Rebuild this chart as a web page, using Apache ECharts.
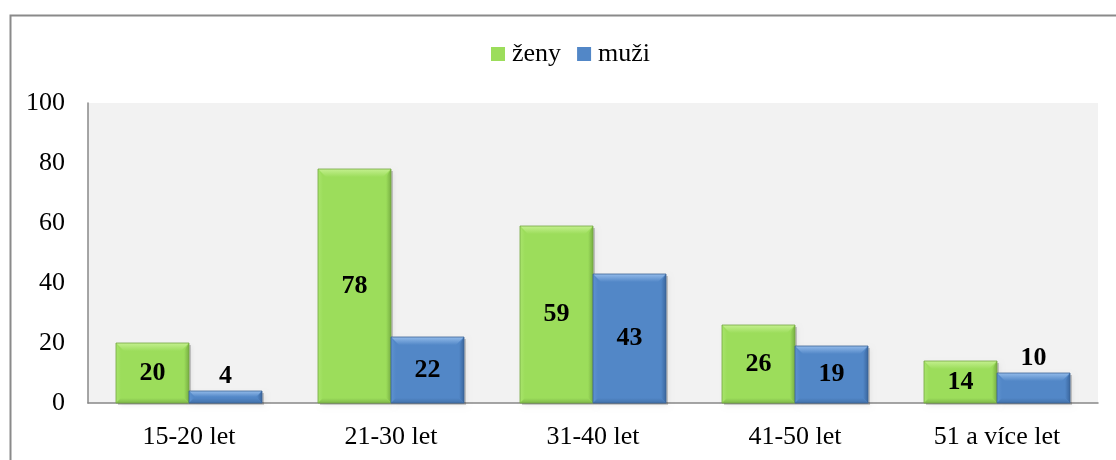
<!DOCTYPE html>
<html><head><meta charset="utf-8">
<script src="https://cdn.jsdelivr.net/npm/echarts@6/dist/echarts.min.js"></script>
<style>html,body{margin:0;padding:0;background:#fff}#c{width:1116px;height:460px}</style>
</head><body><div id="c"></div>
<script>
const categories = ['15-20 let', '21-30 let', '31-40 let', '41-50 let', '51 a více let'];
const zeny = [20, 78, 59, 26, 14];
const muzi = [4, 22, 43, 19, 10];
const seriesNames = ['ženy', 'muži'];
const yTicks = [0, 20, 40, 60, 80, 100];

const FONT = '"Liberation Serif", "Times New Roman", serif';
const palettes = [
  {base: '#9cdd5b', light: '#c4f08f', side: '#a8e46b', dark: '#78b043', darker: '#7fb84a', border: '#74a641'},
  {base: '#5287c7', light: '#93bbea', side: '#5e92d0', dark: '#3b679f', darker: '#4271aa', border: '#3a6395'}
];

function grad(x0, y0, x1, y1, c0, c1) {
  return new echarts.graphic.LinearGradient(x0, y0, x1, y1, [{offset: 0, color: c0}, {offset: 1, color: c1}]);
}

function makeRender(si) {
  return function (params, api) {
    const cat = api.value(0), val = api.value(1);
    const bandW = api.size([1, 0])[0];
    const bw = bandW * 0.3614;
    const base = api.coord([cat, 0]);
    const topP = api.coord([cat, val]);
    const x = si === 0 ? base[0] - bw : base[0];
    const y = topP[1];
    const h = base[1] - topP[1];
    const b = Math.min(8, h / 2);
    const s = Math.min(5, h / 2);
    const p = palettes[si];
    const children = [
      {type: 'rect', shape: {x: x + 2, y: y + 2, width: bw, height: h}, style: {fill: 'rgba(0,0,0,0.18)', shadowBlur: 5, shadowColor: 'rgba(0,0,0,0.35)', shadowOffsetX: 1, shadowOffsetY: 1}, silent: true},
      {type: 'rect', shape: {x: x, y: y, width: bw, height: h}, style: {fill: p.base}},
      {type: 'polygon', shape: {points: [[x, y], [x + bw, y], [x + bw - b, y + b], [x + b, y + b]]}, style: {fill: grad(0, 0, 0, 1, p.light, p.base)}},
      {type: 'polygon', shape: {points: [[x, y], [x + s, y + b], [x + s, y + h - s], [x, y + h]]}, style: {fill: grad(0, 0, 1, 0, p.side, p.base)}},
      {type: 'polygon', shape: {points: [[x + bw, y], [x + bw - s, y + b], [x + bw - s, y + h - s], [x + bw, y + h]]}, style: {fill: grad(0, 0, 1, 0, p.base, p.dark)}},
      {type: 'polygon', shape: {points: [[x, y + h], [x + s, y + h - s], [x + bw - s, y + h - s], [x + bw, y + h]]}, style: {fill: grad(0, 0, 0, 1, p.base, p.darker)}},
      {type: 'rect', shape: {x: x, y: y, width: bw, height: h}, style: {fill: 'none', stroke: p.border, lineWidth: 0.8}}
    ];
    const inside = h >= 36;
    children.push({
      type: 'text',
      style: {
        text: String(val),
        x: x + bw / 2,
        y: inside ? y + h / 2 : y - 2,
        align: 'center',
        verticalAlign: inside ? 'middle' : 'bottom',
        fontSize: 26,
        fontWeight: 'bold',
        fontFamily: FONT,
        fill: '#000'
      }
    });
    return {type: 'group', children: children};
  };
}

const chart = echarts.init(document.getElementById('c'), null, {renderer: 'canvas'});
chart.setOption({
  animation: false,
  backgroundColor: '#fff',
  graphic: [{
    type: 'rect', left: 8, top: 13, shape: {x: 0, y: 0, width: 1200, height: 500},
    style: {fill: 'none', stroke: '#8a8a8a', lineWidth: 2}, silent: true, z: -10
  }],
  legend: {
    top: 36, left: 486,
    itemWidth: 14, itemHeight: 14, itemGap: 16,
    icon: 'rect',
    textStyle: {fontFamily: FONT, fontSize: 26, color: '#000', padding: [0, 0, 0, 2]},
    data: seriesNames
  },
  grid: {left: 88, top: 103, right: 18, bottom: 57, show: true, backgroundColor: '#f2f2f2', borderWidth: 0},
  xAxis: {
    type: 'category', data: categories,
    axisLine: {show: true, lineStyle: {color: '#888', width: 1.5}},
    axisTick: {show: false},
    axisLabel: {fontFamily: FONT, fontSize: 26, color: '#000', margin: 21}
  },
  yAxis: {
    type: 'value', min: yTicks[0], max: yTicks[yTicks.length - 1], interval: 20,
    axisLine: {show: true, lineStyle: {color: '#888', width: 1.5}},
    axisTick: {show: false},
    splitLine: {show: false},
    axisLabel: {fontFamily: FONT, fontSize: 26, color: '#000', margin: 23}
  },
  series: [
    {name: seriesNames[0], type: 'custom', renderItem: makeRender(0), itemStyle: {color: '#9cdd5b'},
     data: zeny.map((v, i) => [i, v]), encode: {x: 0, y: 1}},
    {name: seriesNames[1], type: 'custom', renderItem: makeRender(1), itemStyle: {color: '#5287c7'},
     data: muzi.map((v, i) => [i, v]), encode: {x: 0, y: 1}}
  ]
});
</script></body></html>
